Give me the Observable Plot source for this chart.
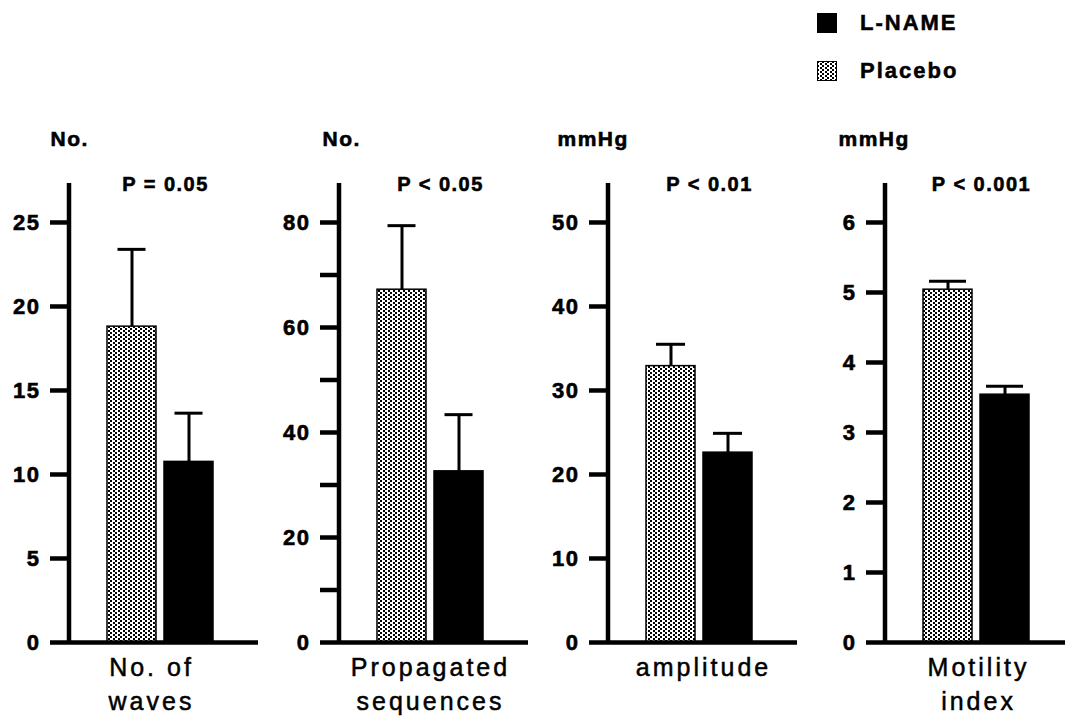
<!DOCTYPE html>
<html>
<head>
<meta charset="utf-8">
<script src="https://cdn.jsdelivr.net/npm/d3@7"></script>
<script src="https://cdn.jsdelivr.net/npm/@observablehq/plot@0.6"></script>
<style>
  html, body { margin: 0; padding: 0; background: #fff; }
  body { width: 1065px; height: 719px; overflow: hidden; font-family: "Liberation Sans", Arial, sans-serif; }
  #legend { position: relative; height: 100px; }
  .leg-item { position: absolute; left: 817px; display: flex; align-items: center; font-weight: bold; font-size: 22px; letter-spacing: 2px; -webkit-text-stroke: 0.5px black; }
  .leg-item svg { margin-right: 23px; display: block; }
  #panels { display: flex; flex-direction: row; }
  #panels svg { display: block; flex: none; }
</style>
</head>
<body>
<div id="legend"></div>
<div id="panels"></div>
<script>
// ---- data ----
const panelLabels = ["No. of\nwaves", "Propagated\nsequences", "amplitude", "Motility\nindex"];
const units = ["No.", "No.", "mmHg", "mmHg"];
const pLabels = ["P = 0.05", "P < 0.05", "P < 0.01", "P < 0.001"];
const groups = ["Placebo", "L-NAME"];
const placeboMean = [18.8, 67.2, 32.9, 5.04];
const placeboSEM = [4.6, 12.2, 2.6, 0.12];
const lnameMean = [10.75, 32.6, 22.6, 3.54];
const lnameSEM = [2.9, 10.8, 2.3, 0.12];
const yTicks = [
  [0, 5, 10, 15, 20, 25],
  [0, 10, 20, 30, 40, 50, 60, 70, 80],
  [0, 10, 20, 30, 40, 50],
  [0, 1, 2, 3, 4, 5, 6]
];
const yLabelStep = [5, 20, 10, 1];
const yMax = [27.32, 87.43, 54.64, 6.557];

// ---- layout (not data) ----
const panelWidth = [270, 270, 270, 255];
const axisLeft = [69, 69, 68, 75];
const unitDx = [-19, -17, -51, -47];
const pDx = [96, 101, 101, 96];
const catDx = [82, 91, 95, 93];
const capInset = [10.5, 10.5, 10, 6];
const H = 619, MT = 83, MB = 77;

function stipplePattern(sel, id) {
  const p = sel.append("pattern").attr("id", id).attr("width", 5).attr("height", 4).attr("patternUnits", "userSpaceOnUse");
  p.append("rect").attr("width", 5).attr("height", 4).attr("fill", "white");
  p.append("rect").attr("width", 2).attr("height", 2).attr("fill", "black");
  p.append("rect").attr("x", 3).attr("y", 2).attr("width", 2).attr("height", 2).attr("fill", "black");
}

function makePanel(i) {
  const data = groups.map((g, j) => ({
    group: g,
    mean: j === 0 ? placeboMean[i] : lnameMean[i],
    sem: j === 0 ? placeboSEM[i] : lnameSEM[i]
  }));
  const pid = "stip" + i;
  const ml = axisLeft[i];
  const defs = () => {
    const d = d3.create("svg:defs");
    stipplePattern(d, pid);
    return d.node();
  };
  const axisLine = (index, scales, values, dimensions) => {
    return d3.create("svg:line")
      .attr("x1", dimensions.marginLeft).attr("x2", dimensions.marginLeft)
      .attr("y1", scales.y(0)).attr("y2", scales.y(yMax[i]))
      .attr("stroke", "black").attr("stroke-width", 4.5).node();
  };
  const svg = Plot.plot({
    width: panelWidth[i],
    height: H,
    marginTop: MT,
    marginBottom: MB,
    marginLeft: ml,
    marginRight: Math.max(0, panelWidth[i] - ml - 189),
    style: { fontFamily: "'Liberation Sans', Arial, sans-serif", fontSize: "22px", fontWeight: "bold", color: "black", background: "white", overflow: "visible" },
    x: { domain: groups, range: [ml + 38, ml + 145], paddingInner: 0.14, paddingOuter: 0, axis: null },
    y: { domain: [0, yMax[i]], nice: false, axis: null },
    marks: [
      defs,
      Plot.barY(data.filter(d => d.group === "Placebo"), { x: "group", y: "mean", fill: `url(#${pid})`, stroke: "black", strokeWidth: 1.5 }),
      Plot.barY(data.filter(d => d.group === "L-NAME"), { x: "group", y: "mean", fill: "black", stroke: "black", strokeWidth: 1.5 }),
      Plot.ruleX(data, { x: "group", y1: "mean", y2: d => d.mean + d.sem, stroke: "black", strokeWidth: 3 }),
      Plot.tickY(data, { x: "group", y: d => d.mean + d.sem, stroke: "black", strokeWidth: 3, insetLeft: capInset[i], insetRight: capInset[i] }),
      Plot.ruleY([0], { stroke: "black", strokeWidth: 4.5 }),
      Plot.axisY({ ticks: yTicks[i], tickSize: 19, tickPadding: 10, strokeWidth: 4.5, label: null,
                   tickFormat: v => (Math.round(v / yLabelStep[i] * 1000) % 1000 === 0 ? String(v) : "") }),
      axisLine,
      Plot.text([units[i]], { frameAnchor: "top-left", dx: unitDx[i], dy: -44, textAnchor: "start", lineAnchor: "middle", fontSize: 21, fontWeight: "bold" }),
      Plot.text([pLabels[i]], { frameAnchor: "top-left", dx: pDx[i], dy: 1, textAnchor: "middle", lineAnchor: "middle", fontSize: 20, fontWeight: "bold" }),
      Plot.text([panelLabels[i]], { frameAnchor: "bottom-left", dx: catDx[i], dy: 9, textAnchor: "middle", lineAnchor: "top", fontSize: 25, fontWeight: "normal", lineHeight: 1.38, fill: "black" })
    ]
  });
  const s = d3.select(svg);
  s.style("letter-spacing", "1.5px");
  s.selectAll("g[font-size='25']").style("letter-spacing", "3px").selectAll("text").style("stroke", "black").style("stroke-width", "0.5px");
  s.selectAll("g[aria-label='y-axis tick label'] text, g[font-size='20'] text, g[font-size='21'] text")
    .style("stroke", "black").style("stroke-width", "0.6px");
  return svg;
}

const panelsDiv = document.getElementById("panels");
for (let i = 0; i < 4; i++) panelsDiv.appendChild(makePanel(i));

// ---- legend ----
const legendItems = [
  { label: "L-NAME", fill: "black", top: 10 },
  { label: "Placebo", fill: "url(#legstip)", top: 58 }
];
const legend = d3.select("#legend");
legendItems.forEach((it, k) => {
  const item = legend.append("div").attr("class", "leg-item").style("top", it.top + "px");
  const sw = item.append("svg").attr("width", 20).attr("height", 20);
  if (k === 1) stipplePattern(sw.append("defs"), "legstip");
  sw.append("rect").attr("x", 0.5).attr("y", 0.5).attr("width", 19).attr("height", 19).attr("fill", it.fill).attr("stroke", "black").attr("stroke-width", 1);
  item.append("span").text(it.label);
});
</script>
</body>
</html>
